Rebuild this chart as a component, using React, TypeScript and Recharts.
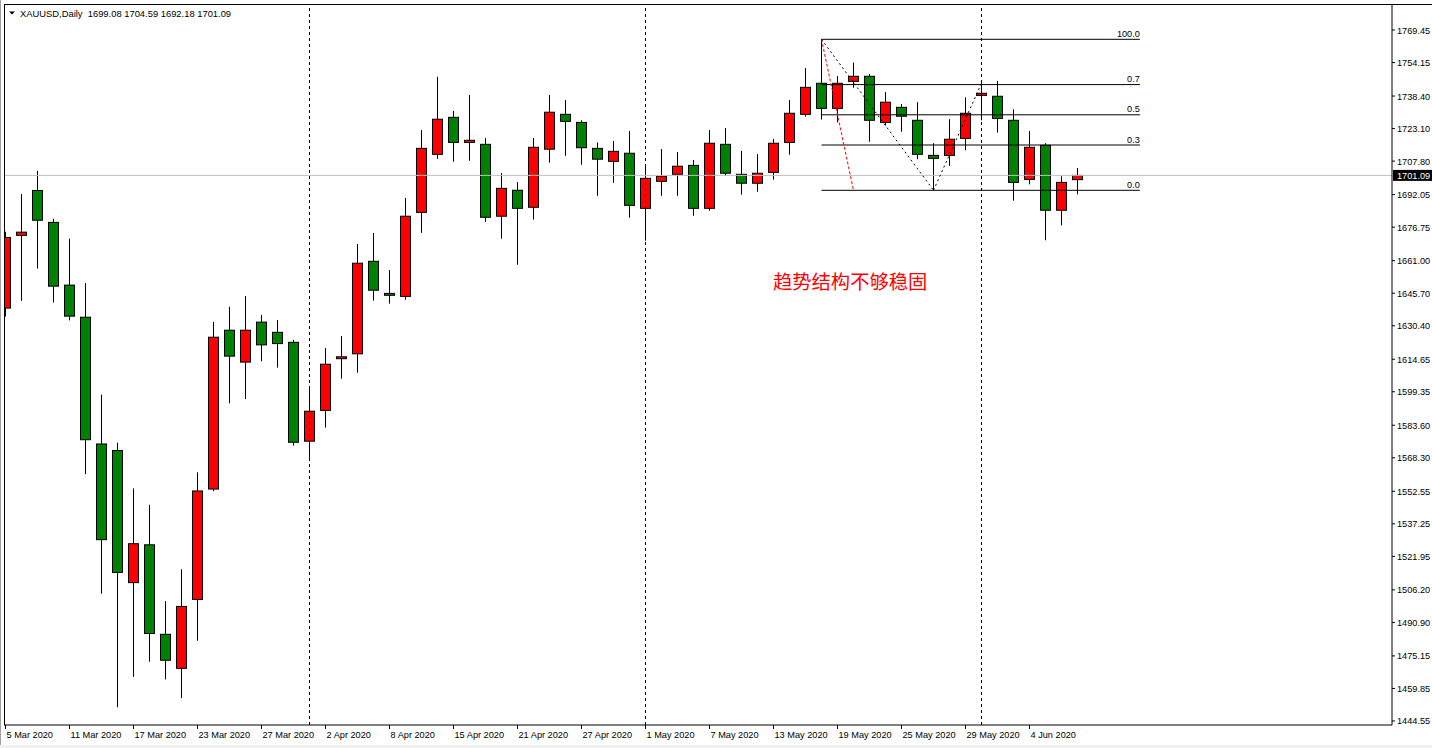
import { ComposedChart, Bar, XAxis, YAxis, ReferenceLine, ReferenceDot } from 'recharts';

// daily bars, 5 Mar 2020 .. 9 Jun 2020
const dates = [
  '5 Mar 2020', '6 Mar 2020', '9 Mar 2020', '10 Mar 2020', '11 Mar 2020', '12 Mar 2020', '13 Mar 2020',
  '16 Mar 2020', '17 Mar 2020', '18 Mar 2020', '19 Mar 2020', '20 Mar 2020', '23 Mar 2020', '24 Mar 2020',
  '25 Mar 2020', '26 Mar 2020', '27 Mar 2020', '30 Mar 2020', '31 Mar 2020', '1 Apr 2020', '2 Apr 2020',
  '3 Apr 2020', '6 Apr 2020', '7 Apr 2020', '8 Apr 2020', '9 Apr 2020', '13 Apr 2020', '14 Apr 2020',
  '15 Apr 2020', '16 Apr 2020', '17 Apr 2020', '20 Apr 2020', '21 Apr 2020', '22 Apr 2020', '23 Apr 2020',
  '24 Apr 2020', '27 Apr 2020', '28 Apr 2020', '29 Apr 2020', '30 Apr 2020', '1 May 2020', '4 May 2020',
  '5 May 2020', '6 May 2020', '7 May 2020', '8 May 2020', '11 May 2020', '12 May 2020', '13 May 2020',
  '14 May 2020', '15 May 2020', '18 May 2020', '19 May 2020', '20 May 2020', '21 May 2020', '22 May 2020',
  '25 May 2020', '26 May 2020', '27 May 2020', '28 May 2020', '29 May 2020', '1 Jun 2020', '2 Jun 2020',
  '3 Jun 2020', '4 Jun 2020', '5 Jun 2020', '8 Jun 2020', '9 Jun 2020',
];

const opens = [
  1638.7, 1672.9, 1694.0, 1679.0, 1649.5, 1634.4, 1574.8, 1571.7, 1509.6, 1527.4, 1485.3, 1469.3, 1501.7, 1553.6,
  1628.3, 1613.3, 1632.1, 1627.3, 1622.6, 1576.1, 1590.6, 1614.9, 1617.2, 1660.7, 1645.6, 1644.2, 1683.7, 1711.0,
  1728.4, 1716.6, 1715.7, 1681.9, 1694.1, 1686.1, 1713.4, 1729.8, 1726.0, 1713.8, 1707.7, 1711.5, 1685.6, 1698.3,
  1701.6, 1705.8, 1685.6, 1715.7, 1701.6, 1697.4, 1702.5, 1716.6, 1729.8, 1744.4, 1732.6, 1745.3, 1747.7, 1726.0,
  1733.1, 1727.0, 1710.5, 1710.5, 1718.5, 1738.7, 1738.3, 1727.0, 1699.2, 1715.2, 1684.7, 1699.08,
];
const highs = [
  1674.6, 1692.3, 1703.2, 1680.7, 1671.3, 1650.5, 1598.0, 1575.4, 1553.9, 1546.2, 1500.9, 1515.9, 1561.5, 1632.2,
  1639.3, 1644.4, 1635.5, 1633.1, 1623.7, 1601.0, 1619.9, 1625.6, 1668.8, 1674.0, 1656.6, 1690.5, 1722.4, 1747.5,
  1731.4, 1738.9, 1718.7, 1702.2, 1698.0, 1718.7, 1738.9, 1736.5, 1727.0, 1716.6, 1717.3, 1722.0, 1705.8, 1713.5,
  1712.1, 1708.3, 1722.4, 1723.4, 1712.6, 1711.1, 1718.2, 1736.5, 1751.6, 1765.1, 1747.8, 1754.1, 1748.8, 1740.3,
  1734.7, 1735.5, 1716.2, 1727.5, 1737.8, 1744.4, 1745.5, 1732.2, 1722.0, 1716.2, 1700.7, 1704.59,
];
const lows = [
  1634.7, 1642.1, 1657.3, 1641.3, 1632.9, 1560.6, 1504.4, 1451.0, 1465.3, 1472.4, 1464.1, 1455.3, 1482.3, 1552.6,
  1593.9, 1595.9, 1613.7, 1610.7, 1574.0, 1567.7, 1582.5, 1605.5, 1608.3, 1642.2, 1640.8, 1642.6, 1674.1, 1708.9,
  1707.5, 1708.0, 1679.3, 1671.3, 1659.1, 1680.3, 1707.1, 1710.3, 1706.1, 1691.5, 1697.6, 1681.2, 1670.4, 1691.5,
  1691.5, 1682.1, 1684.5, 1700.9, 1692.0, 1693.4, 1699.1, 1710.8, 1728.7, 1727.4, 1726.0, 1742.3, 1716.9, 1724.6,
  1721.6, 1708.7, 1694.1, 1705.6, 1712.9, 1727.0, 1721.2, 1689.2, 1696.9, 1670.6, 1677.6, 1692.18,
];
const closes = [
  1671.9, 1674.4, 1680.0, 1649.0, 1634.9, 1576.8, 1529.8, 1514.4, 1527.9, 1485.7, 1473.1, 1498.4, 1552.7, 1625.0,
  1616.1, 1628.3, 1621.4, 1622.0, 1575.6, 1590.2, 1612.3, 1615.8, 1659.8, 1647.1, 1644.7, 1681.9, 1713.8, 1727.5,
  1716.6, 1717.6, 1681.4, 1695.0, 1685.6, 1714.3, 1730.8, 1726.5, 1714.1, 1708.7, 1712.4, 1687.0, 1699.7, 1700.7,
  1705.4, 1685.6, 1716.2, 1702.1, 1697.4, 1702.1, 1716.2, 1730.3, 1742.5, 1732.6, 1744.4, 1747.7, 1727.0, 1735.5,
  1728.9, 1711.0, 1709.1, 1718.1, 1730.3, 1739.7, 1727.9, 1697.8, 1714.3, 1684.7, 1697.8, 1701.09,
];

const priceTicks = [
  1769.45, 1754.15, 1738.4, 1723.1, 1707.8, 1692.05, 1676.75, 1661.0, 1645.7, 1630.4, 1614.65,
  1599.35, 1583.6, 1568.3, 1552.55, 1537.25, 1521.95, 1506.2, 1490.9, 1475.15, 1459.85, 1444.55,
];
const dateTicks = [0, 4, 8, 12, 16, 20, 24, 28, 32, 36, 40, 44, 48, 52, 56, 60, 64];
const monthStarts = [19, 40, 61];

// fibonacci retracement drawn from the 18 May high to the 0.0 anchor
const fibHigh = 1765.08;
const fibLow = 1694.08;
const fibLevels = [0, 0.3, 0.5, 0.7, 1];
const fibLabels = ['0.0', '0.3', '0.5', '0.7', '100.0'];
const fibFrom = 51;
const fibTo = 70.9;
const fibAnchor = 53;
const zigzag = [
  { i: 51, p: 1765.08 },
  { i: 58, p: 1694.08 },
  { i: 61, p: 1744.4 },
];
const note = '趋势结构不够稳固';
const notePos = { i: 47.97, p: 1651 };

const data = dates.map((date, i) => ({
  i,
  date,
  open: opens[i],
  high: highs[i],
  low: lows[i],
  close: closes[i],
}));

const last = data[data.length - 1];
const font = '"Liberation Sans", Arial, sans-serif';

function Candle(props: any) {
  const { x, y, width, height, payload } = props;
  const top = Math.min(y, y + height);
  const h = Math.abs(height);
  const k = h / (payload.high - payload.low || 1);
  const py = (v: number) => top + (payload.high - v) * k;
  const cx = x + width / 2;
  const up = payload.close >= payload.open;
  const bTop = py(Math.max(payload.open, payload.close));
  const bBot = py(Math.min(payload.open, payload.close));
  return (
    <g>
      <line x1={cx} x2={cx} y1={top} y2={top + h} stroke="#000" strokeWidth={1} />
      <rect
        x={cx - 5}
        y={bTop}
        width={10}
        height={Math.max(bBot - bTop, 1)}
        fill={up ? '#ff0000' : '#008000'}
        stroke="#000"
        strokeWidth={1}
      />
    </g>
  );
}

const PriceTick = ({ x, y, payload }: any) => (
  <g>
    <line x1={x} x2={x + 3} y1={y} y2={y} stroke="#000" />
    <text x={x + 5} y={y + 3.5} fontSize={9.2} fill="#000">
      {Number(payload.value).toFixed(2)}
    </text>
  </g>
);

const DateTick = ({ x, y, payload }: any) => (
  <g>
    <line x1={x} x2={x} y1={y} y2={y + 4} stroke="#000" />
    <text x={x + 1} y={y + 12.5} fontSize={9.2} fill="#000">
      {dates[payload.value]}
    </text>
  </g>
);

const PriceTag = ({ viewBox }: any) => {
  const x = viewBox.x + viewBox.width + 1;
  const y = viewBox.y;
  return (
    <g>
      <rect x={x} y={y - 5.5} width={40} height={11} fill="#000" />
      <text x={x + 4} y={y + 3.5} fontSize={9.2} fill="#fff">
        {last.close.toFixed(2)}
      </text>
    </g>
  );
};

export default function App() {
  return (
    <div
      style={{
        position: 'fixed',
        left: 0,
        top: 0,
        width: 1432,
        height: 748,
        background: '#fff',
        fontFamily: font,
        overflow: 'hidden',
      }}
    >
      <ComposedChart
        width={1432}
        height={748}
        data={data}
        margin={{ top: 4, right: 0, bottom: 0, left: 4 }}
      >
        <XAxis
          dataKey="i"
          type="number"
          domain={[-0.09375, 86.65625]}
          allowDataOverflow
          ticks={dateTicks}
          interval={0}
          tick={DateTick}
          tickLine={false}
          tickSize={0}
          tickMargin={0}
          axisLine={{ stroke: '#000' }}
          height={23}
        />
        <YAxis
          orientation="right"
          domain={[1442.66, 1781.68]}
          allowDataOverflow
          ticks={priceTicks}
          interval={0}
          tick={PriceTick}
          tickLine={false}
          tickSize={0}
          tickMargin={0}
          width={40}
          axisLine={{ stroke: '#000' }}
        />
        {monthStarts.map((i) => (
          <ReferenceLine key={'m' + i} x={i} stroke="#000" strokeDasharray="3 3" />
        ))}
        <ReferenceLine y={last.close} stroke="#c0c0c0" label={(p: any) => <PriceTag viewBox={p.viewBox} />} />
        {fibLevels.map((lv, k) => {
          const p = fibLow + lv * (fibHigh - fibLow);
          return (
            <ReferenceLine
              key={'f' + k}
              segment={[
                { x: fibFrom, y: p },
                { x: fibTo, y: p },
              ]}
              stroke="#000"
              label={(props: any) => (
                <text
                  x={props.viewBox.x + props.viewBox.width}
                  y={props.viewBox.y - 2.5}
                  textAnchor="end"
                  fontSize={9.2}
                  fill="#000"
                >
                  {fibLabels[k]}
                </text>
              )}
            />
          );
        })}
        <ReferenceLine
          segment={[
            { x: fibFrom, y: fibHigh },
            { x: fibAnchor, y: fibLow },
          ]}
          stroke="#ff0000"
          strokeDasharray="3 2"
        />
        {zigzag.slice(1).map((pt, k) => (
          <ReferenceLine
            key={'z' + k}
            segment={[
              { x: zigzag[k].i, y: zigzag[k].p },
              { x: pt.i, y: pt.p },
            ]}
            stroke="#000"
            strokeDasharray="2 3"
          />
        ))}
        <Bar
          dataKey={(d: any) => [d.low, d.high]}
          shape={Candle}
          barSize={10}
          isAnimationActive={false}
        />
        <ReferenceDot
          x={notePos.i}
          y={notePos.p}
          r={0}
          fill="none"
          stroke="none"
          label={(props: any) => (
            <text
              x={props.viewBox.x}
              y={props.viewBox.y + 7}
              fontSize={19.3}
              fill="#ff0000"
              style={{ fontFamily: '"Noto Sans CJK SC", sans-serif' }}
            >
              {note}
            </text>
          )}
        />
      </ComposedChart>
      <svg
        width={1432}
        height={748}
        style={{ position: 'absolute', left: 0, top: 0, pointerEvents: 'none' }}
      >
        <line x1={0.5} x2={0.5} y1={0} y2={745} stroke="#a0a0a0" />
        <rect x={0} y={745} width={1432} height={3} fill="#f0f0f0" />
        <line x1={4.5} x2={4.5} y1={4} y2={725} stroke="#000" />
        <line x1={4} x2={1432} y1={4.5} y2={4.5} stroke="#000" />
        <polygon points="9,11.5 15,11.5 12,14.5" fill="#000" />
        <text x={20} y={16.6} fontSize={9.4} fill="#000" style={{ whiteSpace: 'pre' }}>
          {`XAUUSD,Daily  ${last.open.toFixed(2)} ${last.high.toFixed(2)} ${last.low.toFixed(2)} ${last.close.toFixed(2)}`}
        </text>
      </svg>
    </div>
  );
}
